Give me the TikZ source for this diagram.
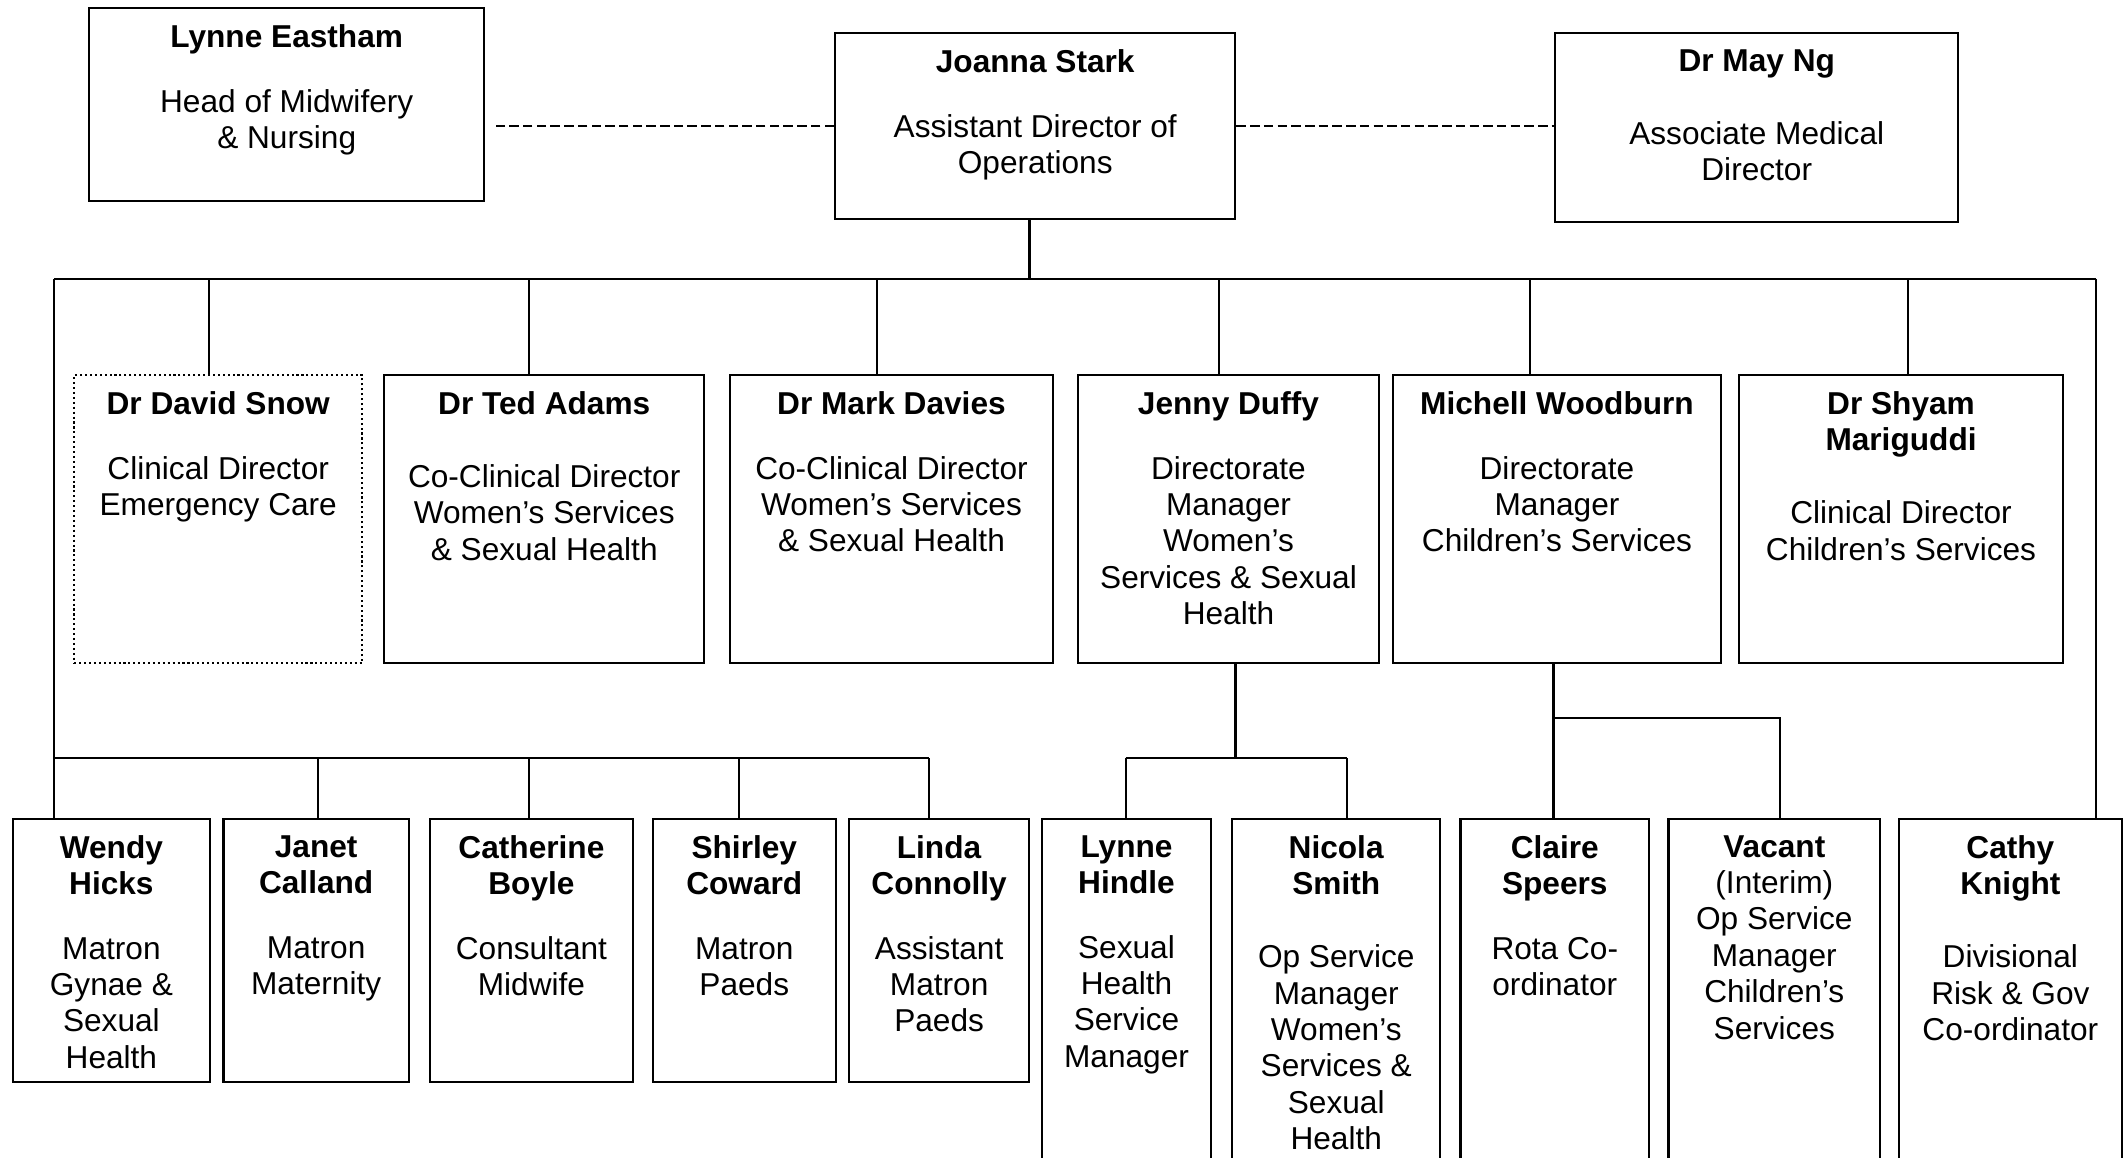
\documentclass[tikz,border=0pt]{standalone}
\usepackage{fontspec}
\setmainfont{Liberation Sans}
\usetikzlibrary{positioning}

\tikzset{
	box/.style={draw, line width=0.7pt, anchor=north west, inner sep=0pt},
	dotbox/.style={box, dash pattern=on 0.6pt off 0.8pt},
	txt/.style={align=center, inner sep=0pt, font=\fontsize{9}{10.35}\selectfont},
	link/.style={line width=0.6pt},
	dashlink/.style={link, dash pattern=on 2.7pt off 1.2pt}
}

\begin{document}
\begin{tikzpicture}[x=1cm, y=-1cm]

	\useasboundingbox (0,0) rectangle (21.25,11.58);
	\clip (0,0) rectangle (21.25,11.58);

% Nivel superior
	\node[box, minimum width=3.95cm, minimum height=1.93cm] (eastham) at (0.88,0.07) {};
	\node[box, minimum width=4.00cm, minimum height=1.86cm] (stark) at (8.34,0.32) {};
	\node[box, minimum width=4.03cm, minimum height=1.89cm] (ng) at (15.54,0.32) {};

	\node[txt, below=0.17cm of eastham.north] (eastham-t) {\textbf{Lynne Eastham}\\[8pt]Head of Midwifery\\\& Nursing};
	\node[txt, below=0.17cm of stark.north] (stark-t) {\textbf{Joanna Stark}\\[8pt]Assistant Director of\\Operations};
	\node[txt, below=0.17cm of ng.north] (ng-t) {\textbf{Dr May Ng}\\[10.4pt]Associate Medical\\Director};

	\draw[dashlink, shorten >=0.1cm] (stark.west) -- (stark.west -| eastham.east);
	\draw[dashlink] (stark.east) -- (stark.east -| ng.west);

% Segundo nivel
	\node[dotbox, minimum width=2.88cm, minimum height=2.88cm] (snow) at (0.73,3.74) {};
	\foreach \n/\x/\w in {adams/3.83/3.20, davies/7.29/3.225, duffy/10.765/3.015, woodburn/13.915/3.285, mariguddi/17.376/3.244}
		\node[box, minimum width=\w cm, minimum height=2.88cm] (\n) at (\x,3.74) {};

	\node[txt, below=0.17cm of snow.north] (snow-t) {\textbf{Dr David Snow}\\[8pt]Clinical Director\\Emergency Care};
	\node[txt, below=0.17cm of adams.north] (adams-t) {\textbf{Dr Ted Adams}\\[10.4pt]Co-Clinical Director\\Women's Services\\\& Sexual Health};
	\node[txt, below=0.17cm of davies.north] (davies-t) {\textbf{Dr Mark Davies}\\[8pt]Co-Clinical Director\\Women's Services\\\& Sexual Health};
	\node[txt, below=0.17cm of duffy.north] (duffy-t) {\textbf{Jenny Duffy}\\[8pt]Directorate\\Manager\\Women's\\Services \& Sexual\\Health};
	\node[txt, below=0.17cm of woodburn.north] (woodburn-t) {\textbf{Michell Woodburn}\\[8pt]Directorate\\Manager\\Children's Services};
	\node[txt, below=0.17cm of mariguddi.north] (mariguddi-t) {\textbf{Dr Shyam}\\\textbf{Mariguddi}\\[10.4pt]Clinical Director\\Children's Services};

	\coordinate (barL) at (0.54,2.79);
	\coordinate (barR) at (20.96,2.79);
	\draw[link] ([xshift=-0.057cm]stark.south) -- ([xshift=-0.057cm]stark.south |- barL);
	\draw[link] (barL) -- (barR);
	\foreach \n/\x in {snow/2.09, adams/5.29, davies/8.77, duffy/12.19, woodburn/15.30, mariguddi/19.08}
		\draw[link] (\x,2.79) -- (\x,2.79 |- \n.north);

% Tercer nivel
	\foreach \n/\x/\w in {wendy/0.115/1.973, janet/2.224/1.851, catherine/4.285/2.034, shirley/6.515/1.831, linda/8.48/1.798}
		\node[box, minimum width=\w cm, minimum height=2.63cm] (\n) at (\x,8.177) {};
	\foreach \n/\x/\w in {hindle/10.41/1.685, nicola/12.31/2.08, claire/14.592/1.887, vacant/16.672/2.117, cathy/18.975/2.232}
		\node[box, minimum width=\w cm, minimum height=3.6cm] (\n) at (\x,8.177) {};

	\node[txt, below=0.17cm of wendy.north] (wendy-t) {\textbf{Wendy}\\\textbf{Hicks}\\[8pt]Matron\\Gynae \&\\Sexual\\Health};
	\node[txt, below=0.17cm of janet.north] (janet-t) {\textbf{Janet}\\\textbf{Calland}\\[8pt]Matron\\Maternity};
	\node[txt, below=0.17cm of catherine.north] (catherine-t) {\textbf{Catherine}\\\textbf{Boyle}\\[8pt]Consultant\\Midwife};
	\node[txt, below=0.17cm of shirley.north] (shirley-t) {\textbf{Shirley}\\\textbf{Coward}\\[8pt]Matron\\Paeds};
	\node[txt, below=0.17cm of linda.north] (linda-t) {\textbf{Linda}\\\textbf{Connolly}\\[8pt]Assistant\\Matron\\Paeds};
	\node[txt, below=0.17cm of hindle.north] (hindle-t) {\textbf{Lynne}\\\textbf{Hindle}\\[8pt]Sexual\\Health\\Service\\Manager};
	\node[txt, below=0.17cm of nicola.north] (nicola-t) {\textbf{Nicola}\\\textbf{Smith}\\[10.4pt]Op Service\\Manager\\Women's\\Services \&\\Sexual\\Health};
	\node[txt, below=0.17cm of claire.north] (claire-t) {\textbf{Claire}\\\textbf{Speers}\\[8pt]Rota Co-\\ordinator};
	\node[txt, below=0.17cm of vacant.north] (vacant-t) {\textbf{Vacant}\\(Interim)\\Op Service\\Manager\\Children's\\Services};
	\node[txt, below=0.17cm of cathy.north] (cathy-t) {\textbf{Cathy}\\\textbf{Knight}\\[10.4pt]Divisional\\Risk \& Gov\\Co-ordinator};

	\draw[link] (barL) -- (barL |- wendy.north);
	\draw[link] (0.54,7.58) -- (9.288,7.58);
	\foreach \n/\x in {janet/3.18, catherine/5.288, shirley/7.39, linda/9.288}
		\draw[link] (\x,7.58) -- (\x,7.58 |- \n.north);

	\coordinate (jd) at (12.355,7.58);
	\draw[link] (jd |- duffy.south) -- (jd);
	\draw[link] (11.256,7.58) -- (13.473,7.58);
	\foreach \n/\x in {hindle/11.256, nicola/13.473}
		\draw[link] (\x,7.58) -- (\x,7.58 |- \n.north);

	\coordinate (mw) at (15.535,7.18);
	\draw[link] (mw |- woodburn.south) -- (mw) -- (mw |- claire.north);
	\draw[link] (mw) -- (17.80,7.18) -- (17.80,7.18 |- vacant.north);

	\draw[link] (barR) -- (barR |- cathy.north);

\end{tikzpicture}
\end{document}
